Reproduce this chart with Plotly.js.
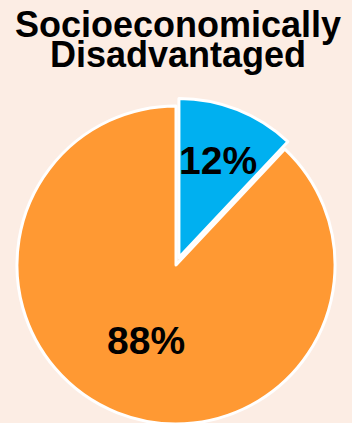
<!DOCTYPE html>
<html><head><meta charset="utf-8">
<script src="https://cdn.plot.ly/plotly-3.0.1.min.js"></script>
<style>
html,body{margin:0;padding:0;background:#FCEDE4;overflow:hidden;}
#wrap{width:352px;height:423px;overflow:hidden;position:relative;}
#chart{width:352px;height:440px;}
</style></head>
<body><div id="wrap"><div id="chart"></div></div>
<script>
// ---- data ----
const categories = ['Socioeconomically Disadvantaged', 'Not Socioeconomically Disadvantaged'];
const values = [12, 88];
const sliceLabels = ['12%', '88%'];
const titleLines = ['Socioeconomically', 'Disadvantaged'];

// ---- style / layout ----
const colors = ['#00B0F0', '#FF9933'];
const pulls = [0.05, 0];
const bg = '#FCEDE4';
const font = 'Liberation Sans, Arial, sans-serif';
const W = 352, H = 440;
const boxTop = 98, boxBottom = 432;            // pixel extent of pie box
const domainY = [(H - boxBottom) / H, (H - boxTop) / H];
const labelRadius = [0.66, 0.51];              // fraction of radius for labels

// geometry as Plotly computes it (for label placement)
const maxPull = Math.max(...pulls);
const r = (boxBottom - boxTop) / (2 + 2 * maxPull);
const cx = W / 2, cy = (boxTop + boxBottom) / 2;
const total = values.reduce((a, b) => a + b, 0);

const annotations = [];
let cum = 0;
values.forEach((v, i) => {
  const mid = (cum + v / 2) / total * 2 * Math.PI;
  cum += v;
  const d = pulls[i] * r + labelRadius[i] * r;
  const px = cx + d * Math.sin(mid);
  const py = cy - d * Math.cos(mid);
  annotations.push({
    text: sliceLabels[i], xref: 'paper', yref: 'paper',
    x: px / W, y: 1 - py / H, xanchor: 'center', yanchor: 'middle',
    showarrow: false, font: {family: font, size: 39, color: '#000', weight: 700}
  });
});

const titleY = [24.8, 54.3];
titleLines.forEach((t, i) => {
  annotations.push({
    text: t, xref: 'paper', yref: 'paper', x: 0.505, y: 1 - titleY[i] / H,
    xanchor: 'center', yanchor: 'middle', showarrow: false,
    font: {family: font, size: 36, color: '#000', weight: 700}
  });
});

const trace = {
  type: 'pie', labels: categories, values: values, sort: false,
  direction: 'clockwise', rotation: 0, pull: pulls,
  marker: {colors: colors, line: {color: '#FFFFFF', width: 3}},
  textinfo: 'none', hoverinfo: 'none', showlegend: false,
  domain: {x: [0, 1], y: domainY}
};

Plotly.newPlot('chart', [trace], {
  width: W, height: H, margin: {l: 0, r: 0, t: 0, b: 0},
  paper_bgcolor: bg, plot_bgcolor: bg, showlegend: false,
  annotations: annotations
}, {staticPlot: true});
</script></body></html>
